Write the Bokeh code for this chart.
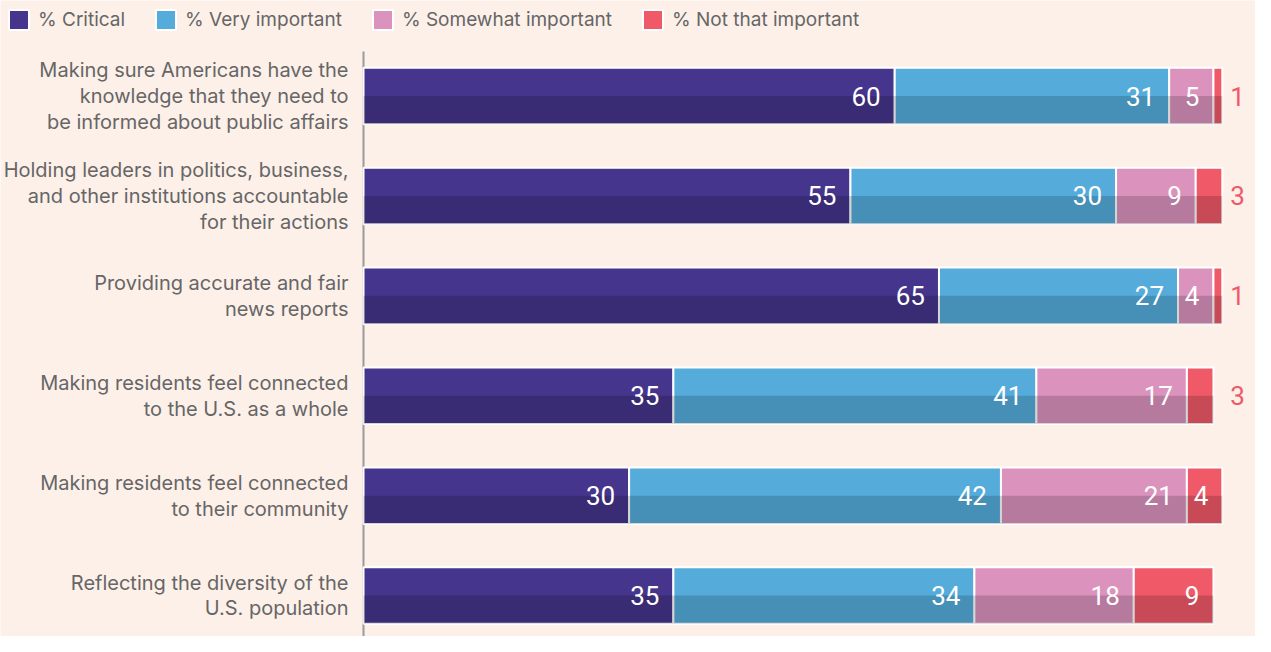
import numpy as np
from bokeh.plotting import figure
from bokeh.models import Range1d, Label, Legend, LegendItem
from bokeh.core.properties import value
from bokeh.embed import file_html
from bokeh.resources import INLINE

# ---------------- data ----------------
categories = [
    "Making sure Americans have the\nknowledge that they need to\nbe informed about public affairs",
    "Holding leaders in politics, business,\nand other institutions accountable\nfor their actions",
    "Providing accurate and fair\nnews reports",
    "Making residents feel connected\nto the U.S. as a whole",
    "Making residents feel connected\nto their community",
    "Reflecting the diversity of the\nU.S. population",
]
series_names = ["% Critical", "% Very important", "% Somewhat important", "% Not that important"]
critical = [60, 55, 65, 35, 30, 35]
very_important = [31, 30, 27, 41, 42, 34]
somewhat_important = [5, 9, 4, 17, 21, 18]
not_that_important = [1, 3, 1, 3, 4, 9]

# ---------------- style ----------------
colors = ["#46358C", "#55ACDB", "#DB93BE", "#F05A68"]
BG = "#FDF0E9"
TEXT_GRAY = "#666666"
LABEL_FONT = "Inter"
NUM_FONT = "Roboto"

W, H = 1255, 636
series = [critical, very_important, somewhat_important, not_that_important]
n = len(categories)
rows = [float(i) for i in range(n)]
bar_h = 0.566
totals = np.sum(np.array(series, dtype=float), axis=0)

# full-canvas frame; x=0 sits at 363px, rows spaced ~100px
X_START, X_END = -41.0, 100.75
Y_TOP, Y_BOTTOM = -0.957, 5.41
AXIS_TOP = -0.446

p = figure(width=W, height=H,
           x_range=Range1d(X_START, X_END), y_range=Range1d(Y_BOTTOM, Y_TOP),
           min_border=0, x_axis_location=None, y_axis_location=None,
           toolbar_location=None, output_backend="svg",
           background_fill_color=BG, border_fill_color=BG, outline_line_color=None)
p.grid.visible = False

# axis line
p.segment(x0=[0], y0=[AXIS_TOP], x1=[0], y1=[Y_BOTTOM], line_color="#9A9A9A", line_width=2)

bar_renderers = []
left = np.zeros(n)
for vals, col in zip(series, colors):
    vals = np.array(vals, dtype=float)
    right = left + vals
    r = p.hbar(y=rows, height=bar_h, left=left, right=right,
               fill_color=col, line_color="white", line_width=2)
    bar_renderers.append(r)
    left = right

# darker lower half overlay
p.hbar(y=[r + bar_h / 4 for r in rows], height=bar_h / 2, left=0, right=totals,
       fill_color="black", fill_alpha=0.17, line_color=None)

# value labels
max_total = float(totals.max())
left = np.zeros(n)
in_x, in_y, in_t = [], [], []
out_x, out_y, out_t = [], [], []
for vals in series:
    vals = np.array(vals, dtype=float)
    right = left + vals
    for i in range(n):
        if vals[i] >= 4:
            in_x.append(float(right[i])); in_y.append(rows[i]); in_t.append(str(int(vals[i])))
        else:
            out_x.append(max_total); out_y.append(rows[i]); out_t.append(str(int(vals[i])))
    left = right

p.text(x=in_x, y=in_y, text=in_t, x_offset=-14, text_align="right", text_baseline="middle",
       text_color="white", text_font=value(NUM_FONT), text_font_size="26px")
p.text(x=out_x, y=out_y, text=out_t, x_offset=8, text_align="left", text_baseline="middle",
       text_color=colors[3], text_font=value(NUM_FONT), text_font_size="26px")

# category labels
line_gap = 25.9
for i, cat in enumerate(categories):
    lines = cat.split("\n")
    m = len(lines)
    for j, ln in enumerate(lines):
        p.add_layout(Label(x=0, y=rows[i], x_offset=-15, y_offset=((m - 1) / 2 - j) * line_gap,
                           text=ln, text_align="right", text_baseline="middle",
                           text_color=TEXT_GRAY, text_font=LABEL_FONT, text_font_size="20px"))

# legend
items = [LegendItem(label=name, renderers=[r]) for name, r in zip(series_names, bar_renderers)]
legend = Legend(items=items, orientation="horizontal", location=(6, 604),
                glyph_width=25, glyph_height=25, label_standoff=7, spacing=28,
                padding=0, margin=0, border_line_color=None, background_fill_alpha=0,
                label_text_font=LABEL_FONT, label_text_font_size="19px",
                label_text_color=TEXT_GRAY)
p.add_layout(legend)

open("out.html", "w").write(file_html(p, INLINE))
